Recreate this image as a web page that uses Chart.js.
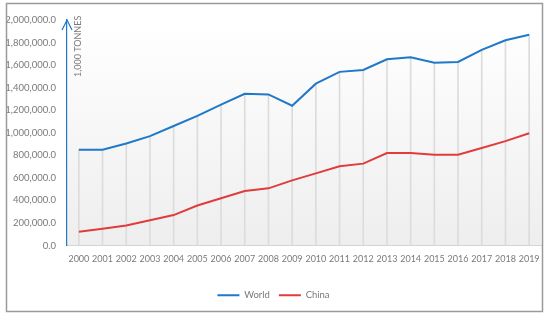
<!DOCTYPE html>
<html>
<head>
    <title>World and China</title>
    <script src="https://cdn.jsdelivr.net/npm/chart.js"></script>
    <style>
        body { margin: 0; background: #fff; }
        #wrap { width: 550px; height: 320px; }
    </style>
</head>
<body>
    <div id="wrap"><canvas id="chart" width="550" height="320"></canvas></div>
    <script type="text/javascript">
        var years = ['2000', '2001', '2002', '2003', '2004', '2005', '2006', '2007', '2008', '2009',
                     '2010', '2011', '2012', '2013', '2014', '2015', '2016', '2017', '2018', '2019'];
        var world = [850000, 850000, 905000, 970000, 1060000, 1150000, 1250000, 1345000, 1340000, 1240000,
                     1435000, 1540000, 1557000, 1652000, 1670000, 1620000, 1628000, 1735000, 1820000, 1870000];
        var china = [121000, 148000, 177000, 224000, 270000, 355000, 419000, 483000, 507000, 578000,
                     640000, 702000, 726000, 820000, 820000, 805000, 805000, 864000, 926000, 995000];
        var yTicksMax = 2000000;
        var yTicksStep = 200000;
        var unitLabel = '1,000 TONNES';

        var blue = '#1f78c8';
        var red = '#e03c3c';
        var textGrey = '#7a7a7a';
        var fontFamily = 'Lato';

        // plot background, outer frame, axis arrow and unit label
        var decor = {
            id: 'decor',
            beforeDraw: function(chart) {
                var ctx = chart.ctx;
                var a = chart.chartArea;
                ctx.save();
                ctx.fillStyle = '#fff';
                ctx.fillRect(0, 0, chart.width, chart.height);
                var g = ctx.createLinearGradient(0, a.top, 0, a.bottom);
                g.addColorStop(0, '#ffffff');
                g.addColorStop(1, '#eeeeee');
                ctx.fillStyle = g;
                ctx.fillRect(a.left, a.top, a.right - a.left, a.bottom - a.top);
                ctx.restore();
            },
            afterDraw: function(chart) {
                var ctx = chart.ctx;
                var a = chart.chartArea;
                ctx.save();
                ctx.strokeStyle = '#9a9a9a';
                ctx.lineWidth = 1.5;
                ctx.strokeRect(6.5, 3.5, 536, 308);

                ctx.strokeStyle = blue;
                ctx.lineWidth = 1.2;
                ctx.beginPath();
                ctx.moveTo(a.left - 5, a.top + 10);
                ctx.lineTo(a.left, a.top);
                ctx.lineTo(a.left + 5, a.top + 10);
                ctx.stroke();

                ctx.translate(a.left + 11, a.top + 57);
                ctx.rotate(-Math.PI / 2);
                ctx.fillStyle = textGrey;
                ctx.font = '9px ' + fontFamily;
                ctx.textAlign = 'left';
                ctx.textBaseline = 'middle';
                ctx.fillText(unitLabel, 0, 0);
                ctx.restore();
            }
        };

        var ctx = document.getElementById('chart').getContext('2d');
        var chart = new Chart(ctx, {
            type: 'line',
            data: {
                labels: years,
                datasets: [
                    {
                        label: 'World',
                        data: world,
                        borderColor: blue,
                        backgroundColor: blue,
                        borderWidth: 2,
                        pointRadius: 0,
                        tension: 0,
                        order: 1
                    },
                    {
                        label: 'China',
                        data: china,
                        borderColor: red,
                        backgroundColor: red,
                        borderWidth: 2,
                        pointRadius: 0,
                        tension: 0,
                        order: 2
                    },
                    {
                        // drop lines from the World points down to the axis
                        type: 'bar',
                        label: 'drop',
                        data: world,
                        backgroundColor: '#dcdcdc',
                        barThickness: 1,
                        order: 3
                    }
                ]
            },
            options: {
                responsive: false,
                animation: false,
                layout: {
                    padding: { left: 6, top: 20, right: 9, bottom: 10 }
                },
                scales: {
                    x: {
                        offset: true,
                        grid: { display: false, drawTicks: false, offset: false },
                        border: { display: true, color: '#d4d4d4', width: 1 },
                        ticks: {
                            color: textGrey,
                            font: { family: fontFamily, size: 9 },
                            padding: 8,
                            maxRotation: 0,
                            autoSkip: false
                        },
                        afterFit: function(scale) { scale.height = 36; }
                    },
                    y: {
                        min: 0,
                        max: yTicksMax,
                        grid: { display: false, drawTicks: false },
                        border: { display: true, color: blue, width: 1.2 },
                        ticks: {
                            stepSize: yTicksStep,
                            color: textGrey,
                            font: { family: fontFamily, size: 9.5 },
                            padding: 11,
                            callback: function(v) {
                                return Number(v).toLocaleString('en-US', { minimumFractionDigits: 1, maximumFractionDigits: 1 });
                            }
                        },
                        afterFit: function(scale) { scale.width = 61; }
                    }
                },
                plugins: {
                    tooltip: { enabled: false },
                    legend: {
                        position: 'bottom',
                        labels: {
                            usePointStyle: true,
                            pointStyle: 'line',
                            pointStyleWidth: 22,
                            color: textGrey,
                            font: { family: fontFamily, size: 9.5 },
                            padding: 9,
                            filter: function(item) { return item.text !== 'drop'; }
                        }
                    }
                }
            },
            plugins: [decor]
        });
    </script>
</body>
</html>
